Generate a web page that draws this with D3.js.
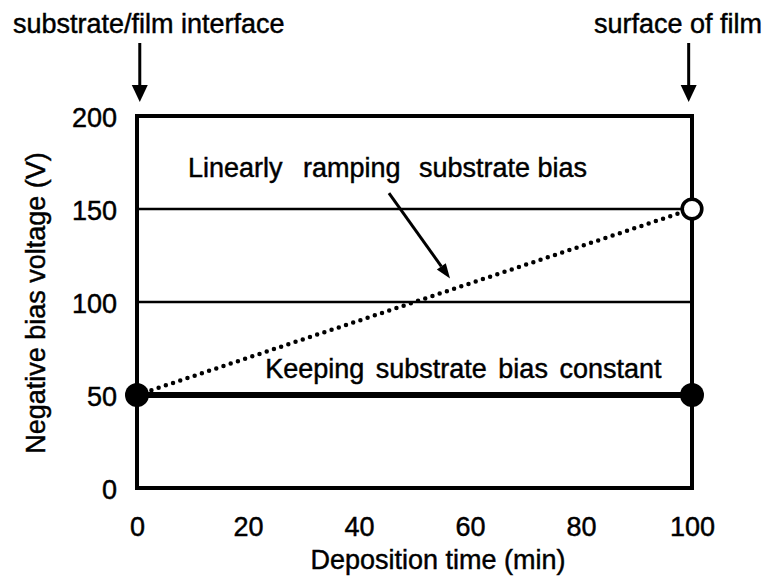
<!DOCTYPE html>
<html>
<head>
<meta charset="utf-8">
<script src="https://cdn.jsdelivr.net/npm/d3@7"></script>
<style>
  html, body { margin: 0; padding: 0; background: #fff; }
  svg { display: block; }
  text { font-family: "Liberation Sans", Arial, sans-serif; fill: #000; stroke: #000; stroke-width: 0.45px; }
</style>
</head>
<body>
<svg id="chart" width="765" height="588"></svg>
<script>
// ---- data ----
const xTicks = [0, 20, 40, 60, 80, 100];
const yTicks = [0, 50, 100, 150, 200];
const gridValues = [100, 150];
const constantTime = [0, 100];
const constantBias = [50, 50];
const rampTime = [0, 100];
const rampBias = [50, 150];
const xTitle = "Deposition time (min)";
const yTitle = "Negative bias voltage (V)";
const rampLabelWords = ["Linearly", "ramping", "substrate bias"];
const constantLabel = "Keeping substrate bias constant";
const topLabels = ["substrate/film interface", "surface of film"];

// ---- layout ----
const svg = d3.select("#chart");
const pLeft = 137, pRight = 692, pTop = 116, pBottom = 488;
const x = d3.scaleLinear().domain([0, 100]).range([pLeft, pRight]);
const y = d3.scaleLinear().domain([0, 200]).range([pBottom, pTop]);
const FS = 27;
const FONT = '"Liberation Sans", Arial, sans-serif';

// grid lines
svg.append("g").selectAll("line").data(gridValues).join("line")
  .attr("x1", x(0)).attr("x2", x(100))
  .attr("y1", d => y(d)).attr("y2", d => y(d))
  .attr("stroke", "#000").attr("stroke-width", 2.5);

// axes (labels only)
const xAxis = svg.append("g").attr("transform", `translate(0,${pBottom})`)
  .call(d3.axisBottom(x).tickValues(xTicks).tickSize(0).tickPadding(29));
xAxis.select(".domain").remove();
xAxis.selectAll("text").attr("font-size", FS).style("font-family", FONT).attr("fill", "#000");

const yAxis = svg.append("g").attr("transform", `translate(${pLeft},0)`)
  .call(d3.axisLeft(y).tickValues(yTicks).tickSize(0).tickPadding(20));
yAxis.select(".domain").remove();
yAxis.selectAll("text").attr("font-size", FS).attr("dy", "0.37em").style("font-family", FONT).attr("fill", "#000");

// titles
svg.append("text").attr("x", 438).attr("y", 569)
  .attr("text-anchor", "middle").attr("font-size", FS).text(xTitle);
svg.append("text").attr("transform", `translate(45,${(pTop + pBottom) / 2 + 1}) rotate(-90)`)
  .attr("text-anchor", "middle").attr("font-size", FS).text(yTitle);

// ramp (dotted)
const rampData = rampTime.map((t, i) => [t, rampBias[i]]);
svg.append("path").datum(rampData)
  .attr("d", d3.line().x(d => x(d[0])).y(d => y(d[1])))
  .attr("fill", "none").attr("stroke", "#000").attr("stroke-width", 4.5)
  .attr("stroke-linecap", "round").attr("stroke-dasharray", "0,7.6");

// constant (thick)
const constData = constantTime.map((t, i) => [t, constantBias[i]]);
svg.append("path").datum(constData)
  .attr("d", d3.line().x(d => x(d[0])).y(d => y(d[1])))
  .attr("fill", "none").attr("stroke", "#000").attr("stroke-width", 6);

// frame
svg.append("rect").attr("x", pLeft).attr("y", pTop)
  .attr("width", pRight - pLeft).attr("height", pBottom - pTop)
  .attr("fill", "none").attr("stroke", "#000").attr("stroke-width", 4);

// markers
svg.append("g").selectAll("circle").data(constData).join("circle")
  .attr("cx", d => x(d[0])).attr("cy", d => y(d[1])).attr("r", 12).attr("fill", "#000");
svg.append("circle").attr("cx", x(rampData[1][0])).attr("cy", y(rampData[1][1]))
  .attr("r", 9.8).attr("fill", "#fff").attr("stroke", "#000").attr("stroke-width", 3.6);

// annotation labels
const rampWordX = [9.2, 29.9, 50.8];
svg.append("text").attr("y", y(167)).attr("font-size", FS)
  .selectAll("tspan").data(rampLabelWords).join("tspan")
  .attr("x", (d, i) => x(rampWordX[i])).text(d => d);
svg.append("text").attr("x", x(23.1)).attr("y", y(59.2)).attr("font-size", FS)
  .attr("word-spacing", 4).text(constantLabel);

// annotation arrow
function arrow(x1, y1, x2, y2, w, headLen, headW) {
  const ang = Math.atan2(y2 - y1, x2 - x1);
  const bx = x2 - headLen * Math.cos(ang), by = y2 - headLen * Math.sin(ang);
  svg.append("line").attr("x1", x1).attr("y1", y1).attr("x2", bx).attr("y2", by)
    .attr("stroke", "#000").attr("stroke-width", w);
  const px = -Math.sin(ang) * headW / 2, py = Math.cos(ang) * headW / 2;
  svg.append("path").attr("d", `M${x2},${y2}L${bx + px},${by + py}L${bx - px},${by - py}Z`)
    .attr("fill", "#000");
}
arrow(x(45.4), y(158.6), x(56.4), y(112.6), 3, 15, 11);

// top labels and arrows
const topArrowX = [0.5, 99.4];
svg.append("text").attr("x", 13).attr("y", 33).attr("font-size", FS).text(topLabels[0]);
svg.append("text").attr("x", 762).attr("y", 33).attr("text-anchor", "end").attr("font-size", FS).text(topLabels[1]);
topArrowX.forEach(v => arrow(x(v), 43, x(v), pTop - 14, 3, 17, 16));
</script>
</body>
</html>
